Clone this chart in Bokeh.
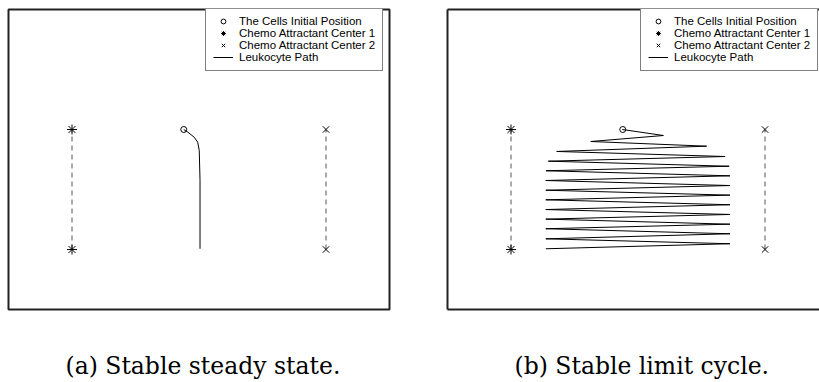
from bokeh.plotting import figure
from bokeh.layouts import row
from bokeh.models import Legend, LegendItem, Title, LinearAxis, FixedTicker, Range1d
from bokeh.embed import file_html
from bokeh.resources import INLINE

# ---- data ----
center1_x = [0, 0]
center1_y = [0, 10]
center2_x = [10, 10]
center2_y = [0, 10]
init_x = [4.4]
init_y = [10.0]

# (a) stable steady state path
path_a_x = [4.40, 4.56, 4.81, 4.95, 5.01, 5.04, 5.04]
path_a_y = [10.0, 9.78, 9.36, 8.94, 8.25, 5.75, 0.06]

# (b) stable limit cycle path (turning points)
path_b_x = [4.38, 6.00, 3.14, 7.70, 1.80, 8.43, 1.47, 8.59, 1.38, 8.62, 1.37,
            8.62, 1.37, 8.62, 1.37, 8.62, 1.37, 8.62, 1.37, 8.62, 1.37, 8.62,
            1.37, 8.62, 1.37]
path_b_y = [10.0, 9.50, 9.00, 8.61, 8.17, 7.75, 7.36, 6.94, 6.56, 6.14, 5.75,
            5.33, 4.94, 4.53, 4.14, 3.73, 3.33, 2.92, 2.53, 2.11, 1.73, 1.31,
            0.89, 0.48, 0.06]

legend_labels = ["The Cells Initial Position", "Chemo Attractant Center 1",
                 "Chemo Attractant Center 2", "Leukocyte Path"]
captions = ["(a) Stable steady state.", "(b) Stable limit cycle."]


def frame_axis():
    return LinearAxis(ticker=FixedTicker(ticks=[]), axis_line_color="#222222",
                      axis_line_width=2, major_tick_line_color=None,
                      minor_tick_line_color=None, major_label_text_font_size="0px")


def build(path_x, path_y, caption, width, x_end, mb_left, mb_right, legend_x,
          caption_offset, open_right):
    p = figure(width=width, height=382, output_backend="svg", toolbar_location=None,
               x_range=Range1d(-2.5, x_end), y_range=Range1d(-5, 20),
               min_border_left=mb_left, min_border_right=mb_right,
               min_border_top=9, min_border_bottom=73,
               x_axis_location=None, y_axis_location=None)
    p.grid.visible = False
    p.background_fill_color = "white"
    p.border_fill_color = "white"

    if open_right:
        p.outline_line_color = None
        p.add_layout(frame_axis(), "left")
        p.add_layout(frame_axis(), "above")
        p.add_layout(frame_axis(), "below")
    else:
        p.outline_line_color = "#222222"
        p.outline_line_width = 2
        p.outline_line_alpha = 1.0

    # blank spacer between the frame and the caption
    spacer = Title(text=" ", text_font_size="1px", standoff=37)
    p.add_layout(spacer, "below")
    t = Title(text=caption, align="left", offset=caption_offset,
              text_font="DejaVu Serif", text_font_size="23.5px",
              text_font_style="normal", text_color="black", standoff=0)
    p.add_layout(t, "below")

    p.line(center1_x, center1_y, line_color="#555555", line_width=1, line_dash="5 4")
    p.line(center2_x, center2_y, line_color="#555555", line_width=1, line_dash="5 4")
    path = p.line(path_x, path_y, line_color="black", line_width=1)
    c0 = p.scatter(init_x, init_y, marker="circle", size=6, fill_color=None,
                   line_color="black", line_width=1)
    s1 = p.scatter(center1_x, center1_y, marker="asterisk", size=10,
                   line_color="black", line_width=1)
    s2 = p.scatter(center2_x, center2_y, marker="x", size=9,
                   line_color="black", line_width=1)

    legend = Legend(items=[LegendItem(label=legend_labels[0], renderers=[c0]),
                           LegendItem(label=legend_labels[1], renderers=[s1]),
                           LegendItem(label=legend_labels[2], renderers=[s2]),
                           LegendItem(label=legend_labels[3], renderers=[path])],
                    location=(legend_x, 238), orientation="vertical",
                    label_text_font="Liberation Sans", label_text_font_size="11.5px",
                    label_text_line_height=1.0,
                    label_text_color="black", label_height=12, glyph_height=12,
                    glyph_width=20, label_standoff=6, spacing=0, padding=7, margin=0,
                    border_line_color="black", border_line_width=1,
                    background_fill_color="white", background_fill_alpha=1.0)
    p.add_layout(legend)
    return p


p1 = build(path_a_x, path_a_y, captions[0], 418, 12.5, 8, 29, 197, 57, False)
p2 = build(path_b_x, path_b_y, captions[1], 401, -2.5 + 372 / 25.4, 29, 0, 193, 67, True)

layout = row(p1, p2, spacing=0)
open("out.html", "w").write(file_html(layout, INLINE))
